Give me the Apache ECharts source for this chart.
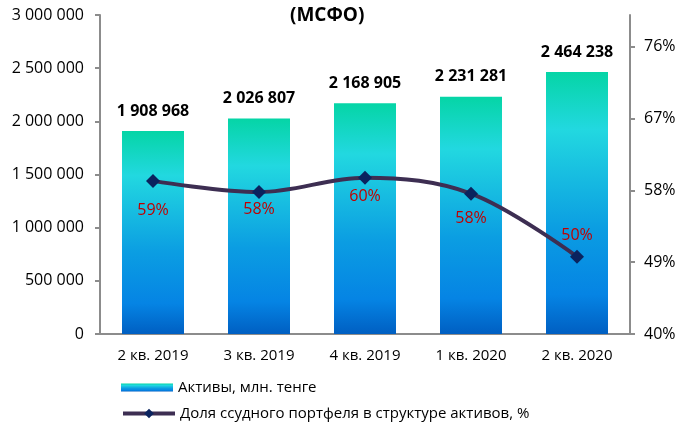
<!DOCTYPE html>
<html>
<head>
<meta charset="utf-8">
<script src="https://cdn.jsdelivr.net/npm/echarts@6/dist/echarts.min.js"></script>
<style>
  html, body { margin: 0; padding: 0; background: #fff; }
  #chart { width: 681px; height: 423px; }
</style>
</head>
<body>
<div id="chart"></div>
<script>
const categories = ['2 кв. 2019', '3 кв. 2019', '4 кв. 2019', '1 кв. 2020', '2 кв. 2020'];
const assets = [1908968, 2026807, 2168905, 2231281, 2464238];
const loanShare = [59.2, 57.8, 59.6, 57.6, 49.7];
const loanLabels = ['59%', '58%', '60%', '58%', '50%'];

const font = '"Open Sans", sans-serif';
const fmtSpace = v => String(v).replace(/\B(?=(\d{3})+(?!\d))/g, ' ');

const barGradient = {
  type: 'linear', x: 0, y: 0, x2: 0, y2: 1,
  colorStops: [
    { offset: 0, color: '#05D5A6' },
    { offset: 0.22, color: '#22D8E0' },
    { offset: 0.6, color: '#0B9DE2' },
    { offset: 0.85, color: '#0584E4' },
    { offset: 1, color: '#005FC2' }
  ]
};

// nudges for the percent labels, as placed in the original
const labelShift = [0, -13, -11, -5, -51];

const legendText = { fontSize: 15, color: '#000', fontFamily: font };

const chart = echarts.init(document.getElementById('chart'));
const option = {
  animation: false,
  textStyle: { fontFamily: font },
  title: {
    text: '(МСФО)',
    left: 285,
    top: 1,
    textStyle: { fontSize: 19, fontWeight: 'bold', color: '#000', fontFamily: font }
  },
  grid: { left: 100, right: 51, top: 15, bottom: 89 },
  legend: [
    {
      left: 116,
      top: 375,
      icon: 'rect',
      itemWidth: 52,
      itemHeight: 8,
      textStyle: legendText,
      data: ['Активы, млн. тенге']
    },
    {
      left: 116,
      top: 401,
      itemWidth: 52,
      itemHeight: 12,
      lineStyle: { width: 4 },
      textStyle: legendText,
      data: ['Доля ссудного портфеля в структуре активов, %']
    }
  ],
  xAxis: {
    type: 'category',
    data: categories,
    axisLine: { lineStyle: { color: '#8c8c8c', width: 2 } },
    axisTick: { show: false },
    axisLabel: { fontSize: 15, color: '#000', margin: 14, fontFamily: font }
  },
  yAxis: [
    {
      type: 'value',
      min: 0,
      max: 3000000,
      interval: 500000,
      splitLine: { show: false },
      axisLine: { show: true, lineStyle: { color: '#8c8c8c', width: 2 } },
      axisTick: { show: true, length: 5, lineStyle: { color: '#8c8c8c', width: 2 } },
      axisLabel: { fontSize: 16, color: '#000', margin: 16, formatter: fmtSpace, fontFamily: font }
    },
    {
      type: 'value',
      min: 40,
      max: 80,
      interval: 9,
      position: 'right',
      splitLine: { show: false },
      axisLine: { show: true, lineStyle: { color: '#8c8c8c', width: 2 } },
      axisTick: { show: true, length: 5, lineStyle: { color: '#8c8c8c', width: 2 } },
      axisLabel: {
        fontSize: 16, color: '#000', margin: 14, showMaxLabel: false, fontFamily: font,
        formatter: v => (v === 80 ? '' : v + '%')
      }
    }
  ],
  series: [
    {
      name: 'Активы, млн. тенге',
      type: 'bar',
      data: assets,
      barWidth: 62,
      itemStyle: { color: barGradient },
      label: {
        show: true,
        position: 'top',
        distance: 12,
        fontSize: 16,
        fontWeight: 'bold',
        color: '#000',
        fontFamily: font,
        formatter: p => fmtSpace(p.value)
      }
    },
    {
      name: 'Доля ссудного портфеля в структуре активов, %',
      type: 'line',
      yAxisIndex: 1,
      data: loanShare,
      smooth: 0.35,
      symbol: 'diamond',
      symbolSize: 14,
      z: 5,
      lineStyle: { color: '#3D2E52', width: 4 },
      itemStyle: { color: '#0A235E' },
      label: {
        show: true,
        position: 'bottom',
        distance: 15,
        fontSize: 16,
        color: '#C00000',
        fontFamily: font,
        formatter: p => loanLabels[p.dataIndex]
      },
      labelLayout: p => ({ dy: labelShift[p.dataIndex] })
    }
  ]
};
chart.setOption(option);
</script>
</body>
</html>
